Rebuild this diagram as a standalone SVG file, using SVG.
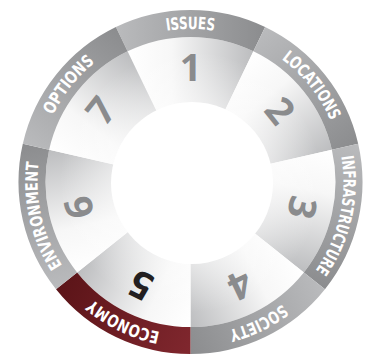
<svg xmlns="http://www.w3.org/2000/svg" xmlns:xlink="http://www.w3.org/1999/xlink" width="375" height="358" viewBox="0 0 375 358">
  <style>
    .band { fill: url(#bandG); }
    .band.active { fill: url(#ecoG); }
    .wedge { fill: url(#wedgeG); }
    .shade { fill: url(#shadeG); }
    .label { font-family: 'DejaVu Sans Condensed', 'DejaVu Sans', sans-serif; font-weight: bold; font-size: 17px; fill: #ffffff; }
    .num { font-family: 'Open Sans', 'DejaVu Sans', sans-serif; font-weight: bold; font-size: 38px; fill: #8a8b8d; text-anchor: middle; }
    .num.active { fill: #231f20; }
  </style>
  <defs>
    <linearGradient id="bandG" gradientUnits="userSpaceOnUse" x1="-75" y1="0" x2="75" y2="0">
      <stop offset="0" stop-color="#babbbd"/>
      <stop offset="1" stop-color="#8b8c8e"/>
    </linearGradient>
    <linearGradient id="ecoG" gradientUnits="userSpaceOnUse" x1="-75" y1="0" x2="75" y2="0">
      <stop offset="0" stop-color="#80272e"/>
      <stop offset="1" stop-color="#5b1418"/>
    </linearGradient>
    <linearGradient id="wedgeG" gradientUnits="userSpaceOnUse" x1="-63" y1="0" x2="63" y2="0">
      <stop offset="0" stop-color="#ffffff"/>
      <stop offset="0.35" stop-color="#f7f7f7"/>
      <stop offset="1" stop-color="#bcbdbf"/>
    </linearGradient>
    <radialGradient id="shadeG" gradientUnits="userSpaceOnUse" cx="0" cy="0" r="145">
      <stop offset="0.55" stop-color="#ffffff" stop-opacity="0.45"/>
      <stop offset="0.9" stop-color="#ffffff" stop-opacity="0"/>
    </radialGradient>
    <path id="bandShape" d="M -74.627 -154.967 A 172 172 0 0 1 74.627 -154.967 L 62.913 -130.641 A 145 145 0 0 0 -62.913 -130.641 Z"/>
    <path id="wedgeShape" d="M 0 0 L -62.913 -130.641 A 145 145 0 0 1 62.913 -130.641 Z"/>
    <path id="arc" d="M -153 0 A 153 153 0 0 1 153 0"/>
  </defs>

  <g transform="translate(190.5 182)">
    <g id="issues" transform="rotate(0)">
      <use href="#wedgeShape" class="wedge"/>
      <use href="#wedgeShape" class="shade"/>
      <use href="#bandShape" class="band"/>
      <text class="label"><textPath href="#arc" startOffset="50%" text-anchor="middle" textLength="48" lengthAdjust="spacingAndGlyphs">ISSUES</textPath></text>
      <text class="num" x="0" y="-101">1</text>
    </g>
    <g id="locations" transform="rotate(51.4286)">
      <use href="#wedgeShape" class="wedge"/>
      <use href="#wedgeShape" class="shade"/>
      <use href="#bandShape" class="band"/>
      <text class="label"><textPath href="#arc" startOffset="50%" text-anchor="middle" textLength="80" lengthAdjust="spacingAndGlyphs">LOCATIONS</textPath></text>
      <text class="num" x="0" y="-101">2</text>
    </g>
    <g id="infrastructure" transform="rotate(102.857)">
      <use href="#wedgeShape" class="wedge"/>
      <use href="#wedgeShape" class="shade"/>
      <use href="#bandShape" class="band"/>
      <text class="label"><textPath href="#arc" startOffset="50%" text-anchor="middle" textLength="120" lengthAdjust="spacingAndGlyphs">INFRASTRUCTURE</textPath></text>
      <text class="num" x="0" y="-101">3</text>
    </g>
    <g id="society" transform="rotate(154.286)">
      <use href="#wedgeShape" class="wedge"/>
      <use href="#wedgeShape" class="shade"/>
      <use href="#bandShape" class="band"/>
      <text class="label"><textPath href="#arc" startOffset="50%" text-anchor="middle" textLength="60" lengthAdjust="spacingAndGlyphs">SOCIETY</textPath></text>
      <text class="num" x="0" y="-101">4</text>
    </g>
    <g id="economy" transform="rotate(205.714)">
      <use href="#wedgeShape" class="wedge"/>
      <use href="#wedgeShape" class="shade"/>
      <use href="#bandShape" class="band active"/>
      <text class="label"><textPath href="#arc" startOffset="50%" text-anchor="middle" textLength="76" lengthAdjust="spacingAndGlyphs">ECONOMY</textPath></text>
      <text class="num active" x="0" y="-101">5</text>
    </g>
    <g id="environment" transform="rotate(257.143)">
      <use href="#wedgeShape" class="wedge"/>
      <use href="#wedgeShape" class="shade"/>
      <use href="#bandShape" class="band"/>
      <text class="label"><textPath href="#arc" startOffset="50%" text-anchor="middle" textLength="108" lengthAdjust="spacingAndGlyphs">ENVIRONMENT</textPath></text>
      <text class="num" x="0" y="-101">6</text>
    </g>
    <g id="options" transform="rotate(308.571)">
      <use href="#wedgeShape" class="wedge"/>
      <use href="#wedgeShape" class="shade"/>
      <use href="#bandShape" class="band"/>
      <text class="label"><textPath href="#arc" startOffset="50%" text-anchor="middle" textLength="68" lengthAdjust="spacingAndGlyphs">OPTIONS</textPath></text>
      <text class="num" x="0" y="-101">7</text>
    </g>
    <circle id="hub" cx="1.5" cy="1" r="81" fill="#ffffff"/>
  </g>
</svg>
